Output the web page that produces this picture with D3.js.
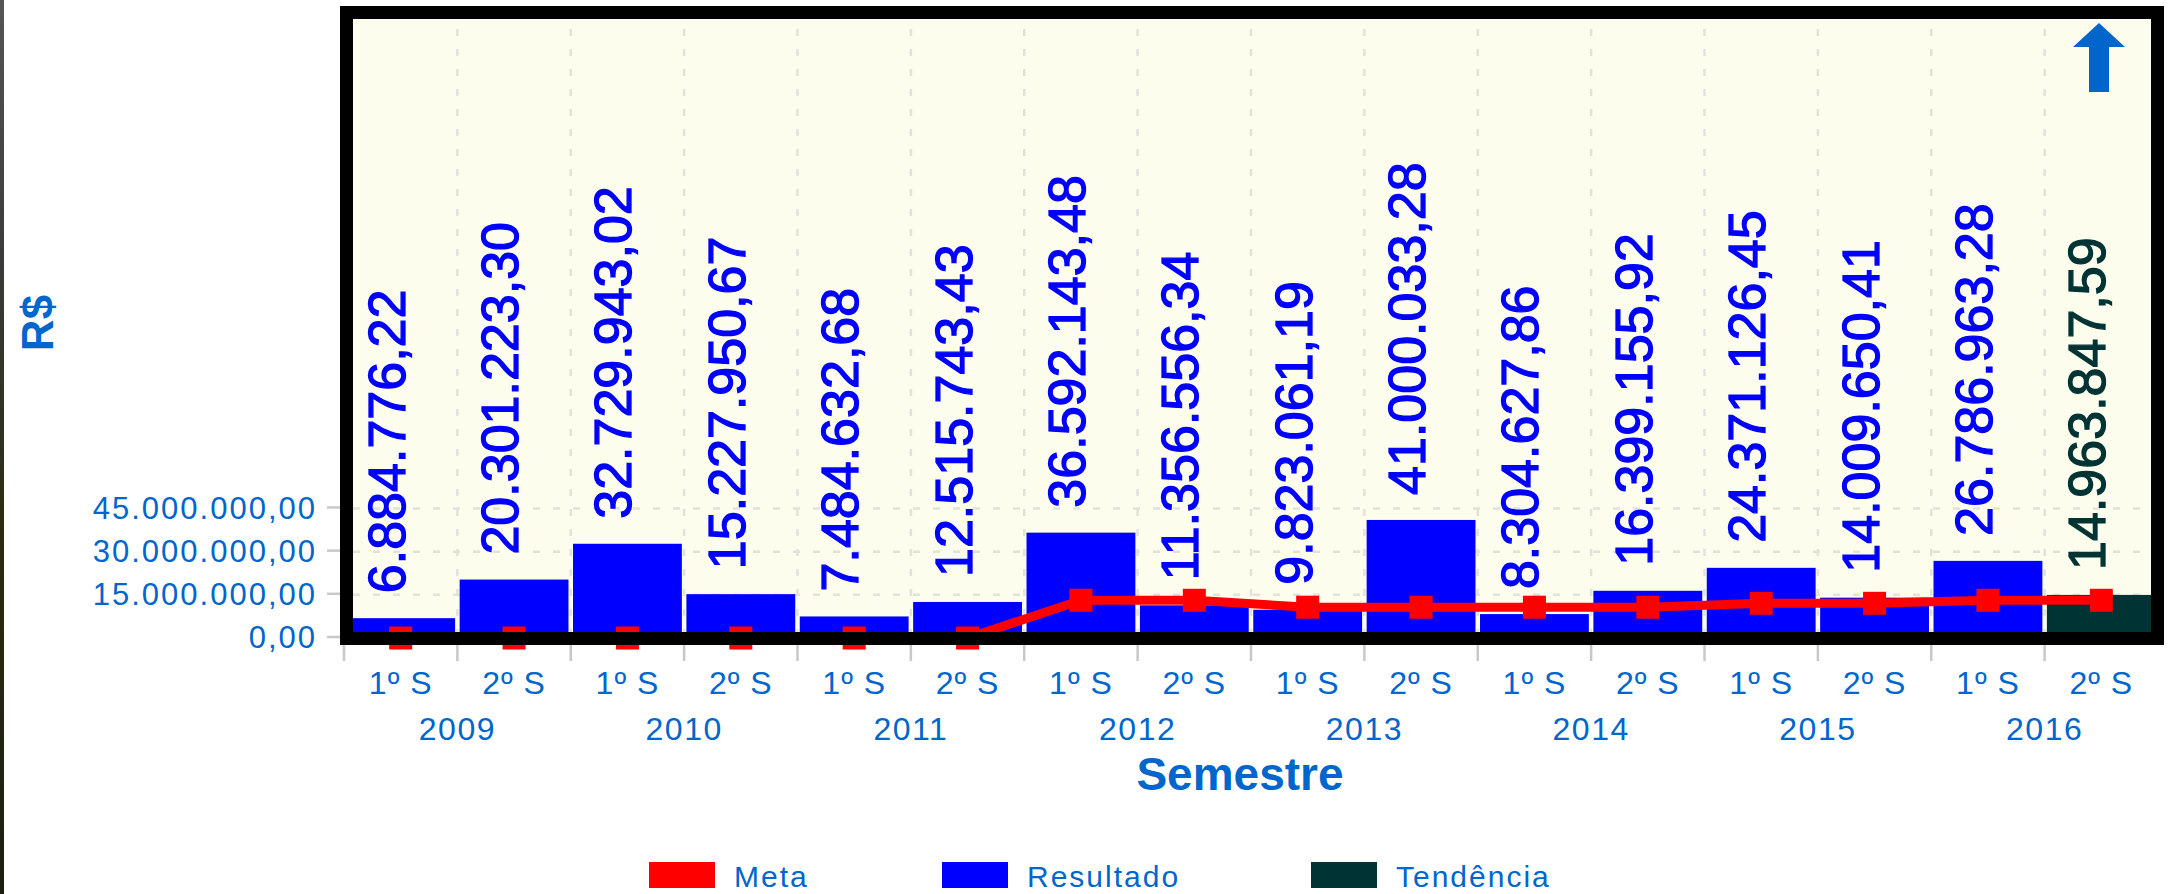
<!DOCTYPE html>
<html>
<head>
<meta charset="utf-8">
<script src="https://cdn.jsdelivr.net/npm/d3@7/dist/d3.min.js"></script>
<style>
  html, body { margin: 0; padding: 0; background: #ffffff; }
  svg { display: block; }
  text { font-family: "Liberation Sans", Arial, sans-serif; }
</style>
</head>
<body>
<script>
// ---------------- DATA ----------------
const years = ["2009", "2010", "2011", "2012", "2013", "2014", "2015", "2016"];
const semesters = ["1º S", "2º S"];
const resultado = [6884776.22, 20301223.30, 32729943.02, 15227950.67, 7484632.68, 12515743.43,
                   36592143.48, 11356556.34, 9823061.19, 41000033.28, 8304627.86, 16399155.92,
                   24371126.45, 14009650.41, 26786963.28, null];
const tendencia = [null, null, null, null, null, null, null, null,
                   null, null, null, null, null, null, null, 14963847.59];
const meta = [0, 0, 0, 0, 0, 0, 13100000, 13100000, 10700000, 10700000, 10700000, 10700000,
              12050000, 12050000, 13100000, 13100000];
const yTicks = [0, 15000000, 30000000, 45000000];
const legendItems = ["Meta", "Resultado", "Tendência"];

// ---------------- SETUP ----------------
const W = 2170, H = 894;
const categories = years.flatMap(y => semesters.map(s => y + " " + s));
const colors = { meta: "#ff0000", resultado: "#0000ff", tendencia: "#003333", axis: "#0066cc" };
const br = d3.formatLocale({ decimal: ",", thousands: ".", grouping: [3], currency: ["R$", ""] });
const fmt = br.format(",.2f");

const svg = d3.select("body").append("svg").attr("width", W).attr("height", H);

// left dark strip (window edge)
const grad = svg.append("defs").append("linearGradient").attr("id", "edge")
  .attr("x1", 0).attr("y1", 0).attr("x2", 0).attr("y2", 1);
grad.append("stop").attr("offset", "0").attr("stop-color", "#555555");
grad.append("stop").attr("offset", "0.3").attr("stop-color", "#3a3a38");
grad.append("stop").attr("offset", "0.6").attr("stop-color", "#2b2b12");
grad.append("stop").attr("offset", "1").attr("stop-color", "#1e1e10");
svg.append("rect").attr("x", 0).attr("y", 0).attr("width", 4).attr("height", H).attr("fill", "url(#edge)");

// frame geometry
const inner = { x0: 353, x1: 2151, y0: 19, y1: 632 };
const frameW = 13;

// scales
const x = d3.scaleBand().domain(categories).range([344, 2158]).paddingInner(0.04).paddingOuter(0.02);
const step = x.step();
const x0 = x.range()[0];
const y = d3.scaleLinear().domain([0, 215000000]).range([638, 19]);
const cx = c => x(c) + x.bandwidth() / 2;

// plot background
svg.append("rect").attr("x", inner.x0).attr("y", inner.y0)
  .attr("width", inner.x1 - inner.x0).attr("height", inner.y1 - inner.y0)
  .attr("fill", "#fdfdee");

// grid
const grid = svg.append("g").attr("stroke", "#e2e2da").attr("stroke-width", 2.5).attr("stroke-dasharray", "7,13");
grid.selectAll("line.h").data(yTicks.filter(d => d > 0)).join("line")
  .attr("x1", inner.x0).attr("x2", inner.x1)
  .attr("y1", d => y(d)).attr("y2", d => y(d));
grid.selectAll("line.v").data(d3.range(1, categories.length)).join("line")
  .attr("x1", i => x0 + i * step).attr("x2", i => x0 + i * step)
  .attr("y1", inner.y0 + 10).attr("y2", inner.y1);

// bars
const barData = categories.map((c, i) => ({
  c, v: resultado[i] != null ? resultado[i] : tendencia[i],
  kind: resultado[i] != null ? "resultado" : "tendencia"
}));
svg.append("g").selectAll("rect").data(barData).join("rect")
  .attr("x", d => x(d.c)).attr("width", x.bandwidth())
  .attr("y", d => y(d.v)).attr("height", d => y(0) - y(d.v))
  .attr("fill", d => colors[d.kind]);

// value labels
svg.append("g").selectAll("text").data(barData).join("text")
  .attr("transform", d => `translate(${cx(d.c) + 4},${y(d.v) - 25}) rotate(-90)`)
  .attr("text-anchor", "start")
  .attr("font-size", 52)
  .attr("fill", d => colors[d.kind])
  .attr("stroke", d => colors[d.kind]).attr("stroke-width", 1.3)
  .text(d => fmt(d.v));

// meta line + markers
const metaPts = categories.map((c, i) => [cx(c), y(meta[i])]);
svg.append("path").attr("d", d3.line()(metaPts))
  .attr("fill", "none").attr("stroke", colors.meta).attr("stroke-width", 9).attr("stroke-linejoin", "round");
svg.append("g").selectAll("rect").data(metaPts).join("rect")
  .attr("x", d => d[0] - 11.5).attr("y", d => d[1] - 11.5)
  .attr("width", 23).attr("height", 23).attr("fill", colors.meta);

// frame
svg.append("rect")
  .attr("x", inner.x0 - frameW / 2).attr("y", inner.y0 - frameW / 2)
  .attr("width", inner.x1 - inner.x0 + frameW).attr("height", inner.y1 - inner.y0 + frameW)
  .attr("fill", "none").attr("stroke", "#000").attr("stroke-width", frameW);

// up arrow (trend indicator)
const ax = 2099;
svg.append("path")
  .attr("d", `M${ax},23 L${ax + 26},47 L${ax + 10},47 L${ax + 10},92 L${ax - 10},92 L${ax - 10},47 L${ax - 26},47 Z`)
  .attr("fill", colors.axis);

// y axis ticks & labels
const yAxis = svg.append("g");
yAxis.selectAll("line").data(yTicks).join("line")
  .attr("x1", 327).attr("x2", 340).attr("y1", d => y(d) - 1).attr("y2", d => y(d) - 1)
  .attr("stroke", "#c8c8c8").attr("stroke-width", 2.5);
yAxis.selectAll("text").data(yTicks).join("text")
  .attr("x", 317).attr("y", d => y(d) - 1).attr("dy", "0.36em")
  .attr("text-anchor", "end").attr("font-size", 31).attr("letter-spacing", 2)
  .attr("fill", colors.axis).text(d => fmt(d));

// x axis ticks & labels
const xAxis = svg.append("g");
xAxis.selectAll("line").data(d3.range(0, categories.length)).join("line")
  .attr("x1", i => x0 + i * step).attr("x2", i => x0 + i * step)
  .attr("y1", 645).attr("y2", 661)
  .attr("stroke", "#c8c8c8").attr("stroke-width", 2.5);
xAxis.selectAll("text.sem").data(categories).join("text").attr("class", "sem")
  .attr("x", d => cx(d)).attr("y", 694)
  .attr("text-anchor", "middle").attr("font-size", 32).attr("letter-spacing", 1)
  .attr("fill", colors.axis).text((d, i) => semesters[i % 2]);
xAxis.selectAll("text.yr").data(years).join("text").attr("class", "yr")
  .attr("x", (d, i) => x0 + (2 * i + 1) * step).attr("y", 740)
  .attr("text-anchor", "middle").attr("font-size", 32).attr("letter-spacing", 1.5)
  .attr("fill", colors.axis).text(d => d);

// axis titles
svg.append("text").attr("x", 1240).attr("y", 790)
  .attr("text-anchor", "middle").attr("font-size", 46).attr("font-weight", "bold")
  .attr("fill", colors.axis).text("Semestre");
svg.append("text").attr("transform", "translate(53,323) rotate(-90)")
  .attr("text-anchor", "middle").attr("font-size", 44).attr("font-weight", "bold")
  .attr("fill", colors.axis).text("R$");

// legend
const legX = [649, 942, 1311];
const legColors = [colors.meta, colors.resultado, colors.tendencia];
const leg = svg.append("g");
leg.selectAll("rect").data(legendItems).join("rect")
  .attr("x", (d, i) => legX[i]).attr("y", 862).attr("width", 66).attr("height", 26)
  .attr("fill", (d, i) => legColors[i]);
leg.selectAll("text").data(legendItems).join("text")
  .attr("x", (d, i) => legX[i] + 85).attr("y", 887)
  .attr("font-size", 30).attr("letter-spacing", 2)
  .attr("fill", colors.axis).text(d => d);
</script>
</body>
</html>
